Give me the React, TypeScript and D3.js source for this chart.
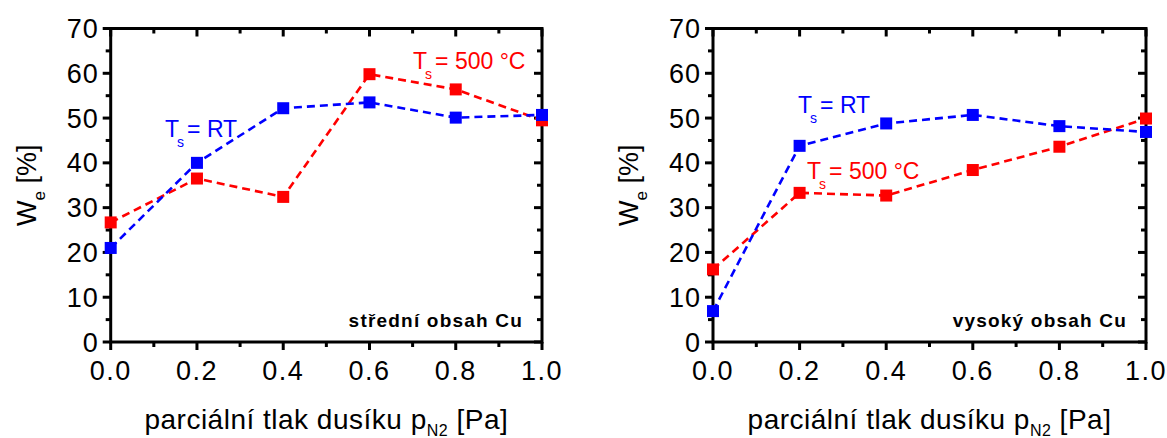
import React from "react";
import * as d3 from "d3";

const pressure = [0, 0.2, 0.4, 0.6, 0.8, 1.0];
const midRT = [21, 40, 52.2, 53.5, 50.1, 50.7];
const mid500 = [26.7, 36.5, 32.4, 59.8, 56.4, 49.5];
const highRT = [6.9, 43.8, 48.8, 50.7, 48.2, 46.9];
const high500 = [16.2, 33.3, 32.7, 38.4, 43.6, 49.9];
const xTicks = [0, 0.2, 0.4, 0.6, 0.8, 1.0];
const xTickLabels = ["0.0", "0.2", "0.4", "0.6", "0.8", "1.0"];
const xMinor = [0.1, 0.3, 0.5, 0.7, 0.9];
const yTicks = [0, 10, 20, 30, 40, 50, 60, 70];
const yMinor = [5, 15, 25, 35, 45, 55, 65];
const panelLabels = ["střední obsah Cu", "vysoký obsah Cu"];

const FONT = "'Liberation Sans', Arial, Helvetica, sans-serif";
const BLUE = "#0000ff";
const RED = "#ff0000";

type PanelProps = {
  x0: number;
  x1: number;
  rt: number[];
  hot: number[];
  label: string;
  rtPos: [number, number];
  hotPos: [number, number];
};

function Series({ xs, ys, x, y, color }: any) {
  const pts: [number, number][] = xs.map((v: number, i: number) => [x(v), y(ys[i])]);
  const line = d3.line()(pts) || "";
  return (
    <g>
      <path d={line} fill="none" stroke={color} strokeWidth={2.6} strokeDasharray="8,5" />
      {pts.map((p, i) => (
        <rect key={i} x={p[0] - 6} y={p[1] - 6} width={12} height={12} fill={color} />
      ))}
    </g>
  );
}

function TLabel({ pos, color, rest }: { pos: [number, number]; color: string; rest: string }) {
  return (
    <text x={pos[0]} y={pos[1]} fill={color} fontFamily={FONT} fontSize={23}>
      <tspan>T</tspan>
      <tspan dx={-2} dy={10} fontSize={14}>s</tspan>
      <tspan dx={3} dy={-10}>{rest}</tspan>
    </text>
  );
}

function Panel({ x0, x1, rt, hot, label, rtPos, hotPos }: PanelProps) {
  const yTop = 28.5;
  const yBot = 342;
  const x = d3.scaleLinear().domain([0, 1]).range([x0, x1]);
  const y = d3.scaleLinear().domain([0, 70]).range([yBot, yTop]);
  const cx = (x0 + x1) / 2;
  const cy = (yTop + yBot) / 2;
  return (
    <g>
      {yTicks.map((t) => (
        <g key={"y" + t}>
          <line x1={x0 - 8} x2={x0} y1={y(t)} y2={y(t)} stroke="#000" strokeWidth={3} />
          <line x1={x1} x2={x1 - 8} y1={y(t)} y2={y(t)} stroke="#000" strokeWidth={3} />
          <text x={x0 - 12} y={y(t) + 9.5} textAnchor="end" fontFamily={FONT} fontSize={27} letterSpacing={1} fill="#000">
            {t}
          </text>
        </g>
      ))}
      {yMinor.map((t) => (
        <g key={"ym" + t}>
          <line x1={x0 - 5} x2={x0} y1={y(t)} y2={y(t)} stroke="#000" strokeWidth={3} />
          <line x1={x1} x2={x1 - 5} y1={y(t)} y2={y(t)} stroke="#000" strokeWidth={3} />
        </g>
      ))}
      {xTicks.map((t, i) => (
        <g key={"x" + t}>
          <line x1={x(t)} x2={x(t)} y1={yBot} y2={yBot + 8} stroke="#000" strokeWidth={3} />
          <line x1={x(t)} x2={x(t)} y1={yTop} y2={yTop + 8} stroke="#000" strokeWidth={3} />
          <text x={x(t)} y={380} textAnchor="middle" fontFamily={FONT} fontSize={27} letterSpacing={1.5} fill="#000">
            {xTickLabels[i]}
          </text>
        </g>
      ))}
      {xMinor.map((t) => (
        <g key={"xm" + t}>
          <line x1={x(t)} x2={x(t)} y1={yBot} y2={yBot + 5} stroke="#000" strokeWidth={3} />
          <line x1={x(t)} x2={x(t)} y1={yTop} y2={yTop + 5} stroke="#000" strokeWidth={3} />
        </g>
      ))}
      <rect x={x0} y={yTop} width={x1 - x0} height={yBot - yTop} fill="none" stroke="#000" strokeWidth={3} />
      <Series xs={pressure} ys={hot} x={x} y={y} color={RED} />
      <Series xs={pressure} ys={rt} x={x} y={y} color={BLUE} />
      <TLabel pos={rtPos} color={BLUE} rest="= RT" />
      <TLabel pos={hotPos} color={RED} rest="= 500 °C" />
      <text x={x1 - 19} y={327} textAnchor="end" fontFamily={FONT} fontSize={19} letterSpacing={1.2} fontWeight="bold" fill="#000">
        {label}
      </text>
      <text x={cx} y={429} textAnchor="middle" fontFamily={FONT} fontSize={28} letterSpacing={0.5} fill="#000">
        <tspan>parciální tlak dusíku p</tspan>
        <tspan dy={7} fontSize={16}>N2</tspan>
        <tspan dy={-7}> [Pa]</tspan>
      </text>
      <text
        transform={`translate(${x0 - 75},${cy}) rotate(-90)`}
        textAnchor="middle"
        fontFamily={FONT}
        fontSize={27}
        fill="#000"
      >
        <tspan>W</tspan>
        <tspan dy={9} fontSize={17}>e</tspan>
        <tspan dy={-9}> [%]</tspan>
      </text>
    </g>
  );
}

export default function App() {
  return (
    <svg
      width={1167}
      height={438}
      style={{ position: "absolute", left: 0, top: 0, display: "block", background: "#fff" }}
    >
      <rect x={0} y={0} width={1167} height={438} fill="#fff" />
      <Panel x0={110.7} x1={542} rt={midRT} hot={mid500} label={panelLabels[0]} rtPos={[165, 137]} hotPos={[413, 69]} />
      <Panel x0={713} x1={1146} rt={highRT} hot={high500} label={panelLabels[1]} rtPos={[798, 113]} hotPos={[807, 179]} />
    </svg>
  );
}
